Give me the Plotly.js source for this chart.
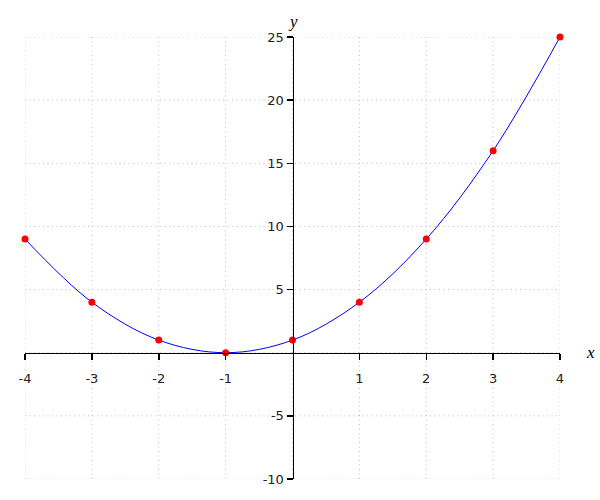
<!DOCTYPE html>
<html><head><meta charset="utf-8">
<script src="https://cdn.plot.ly/plotly-3.0.1.min.js"></script>
<style>body{margin:0;}#c{width:600px;height:500px;}</style>
</head><body><div id="c"></div>
<script>
const xs = [-4, -3, -2, -1, 0, 1, 2, 3, 4];
const ys = [9, 4, 1, 0, 1, 4, 9, 16, 25];
const xTickVals = [-4, -3, -2, -1, 1, 2, 3, 4];
const xTickText = ['-4', '-3', '-2', '-1', '1', '2', '3', '4'];
const yTickVals = [-10, -5, 5, 10, 15, 20, 25];
const yTickText = ['-10', '-5', '5', '10', '15', '20', '25'];
const xGrid = [-4, -3, -2, -1, 0, 1, 2, 3, 4];
const yGrid = [-10, -5, 0, 5, 10, 15, 20, 25];

const gridLine = {color: '#bdbdbd', width: 1, dash: '1px,3.5px'};
const gridShapes = [];
xGrid.forEach(v => gridShapes.push({type:'line', xref:'x', yref:'paper', x0:v, x1:v, y0:0, y1:1, layer:'below', line:gridLine}));
yGrid.forEach(v => gridShapes.push({type:'line', xref:'paper', yref:'y', x0:0, x1:1, y0:v, y1:v, layer:'below', line:gridLine}));

const data = [{
  x: xs, y: ys, type: 'scatter', mode: 'lines+markers',
  line: {color: '#0000ff', width: 1, shape: 'spline', smoothing: 1},
  marker: {color: '#ff0000', size: 7},
  hoverinfo: 'none', cliponaxis: false
}];

const fontTick = {family: 'DejaVu Sans', size: 13, color: '#222'};
const layout = {
  width: 600, height: 500,
  margin: {l: 25, r: 40, t: 37, b: 21},
  paper_bgcolor: '#fff', plot_bgcolor: '#fff',
  showlegend: false,
  xaxis: {
    range: [-4, 4], anchor: 'free', position: 10/35,
    showgrid: false, zeroline: false,
    showline: true, linecolor: '#000', linewidth: 1.5,
    ticks: 'outside', ticklen: 6, tickcolor: '#000', tickwidth: 1.5,
    tickmode: 'array', tickvals: xTickVals, ticktext: xTickText,
    tickfont: fontTick, ticklabelstandoff: 7
  },
  yaxis: {
    range: [-10, 25], anchor: 'free', position: 0.5,
    showgrid: false, zeroline: false,
    showline: true, linecolor: '#000', linewidth: 1.5,
    ticks: 'outside', ticklen: 6, tickcolor: '#000', tickwidth: 1.5,
    tickmode: 'array', tickvals: yTickVals, ticktext: yTickText,
    tickfont: fontTick
  },
  shapes: gridShapes,
  annotations: [
    {text: 'x', xref: 'paper', yref: 'y', x: 1, y: 0, xanchor: 'left', yanchor: 'middle', xshift: 24, showarrow: false,
     font: {family: 'Liberation Serif', size: 17, color: '#000', style: 'italic'}},
    {text: 'y', xref: 'x', yref: 'paper', x: 0, y: 1, xanchor: 'center', yanchor: 'bottom', yshift: 4, showarrow: false,
     font: {family: 'Liberation Serif', size: 17, color: '#000', style: 'italic'}}
  ]
};
Plotly.newPlot('c', data, layout, {displayModeBar: false, staticPlot: true});
</script></body></html>
